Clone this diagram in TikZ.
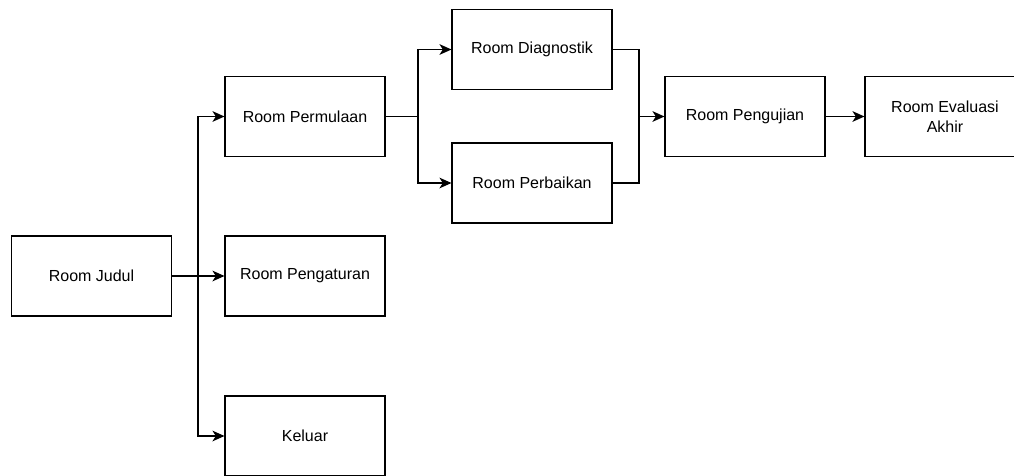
\documentclass[tikz,border=0pt]{standalone}
\usepackage{fontspec}
\setmainfont{Liberation Sans}
\usetikzlibrary{arrows.meta}

\tikzset{
	room/.style={draw, line width=0.8pt, minimum width=120pt, minimum height=60pt, inner sep=2pt, align=center},
	arr/.style={line width=1pt, -{Stealth[length=9pt, width=8pt, inset=2.5pt]}},
	line/.style={line width=1pt}
}

\begin{document}
\begin{tikzpicture}[x=0.75pt, y=-0.75pt, every node/.style={font=\fontsize{12}{15}\selectfont}]
	\useasboundingbox (0,0) rectangle (1014,475);
	\clip (0,0) rectangle (1014,475);
	% rooms
	\node[room] (judul) at (91.5,276) {Room Judul};
	\node[room] (permulaan) at (305,116.5) {Room Permulaan};
	\node[room] (pengaturan) at (305,276) {Room Pengaturan};
	\node[room] (keluar) at (305,436) {Keluar};
	\node[room] (diagnostik) at (532,49.5) {Room Diagnostik};
	\node[room] (perbaikan) at (532,183) {Room Perbaikan};
	\node[room] (pengujian) at (745,116.5) {Room Pengujian};
	\node[room] (evaluasi) at (945,116.5) {Room Evaluasi\\Akhir};
	% branch points
	\coordinate (j) at (198,276);
	\coordinate (p) at (418,116.5);
	\coordinate (m) at (639,116.5);
	% connectors
	\draw[arr] (judul) -- (j) |- (permulaan);
	\draw[arr] (judul) -- (pengaturan);
	\draw[arr] (j) |- (keluar);
	\draw[arr] (permulaan) -- (p) |- (diagnostik);
	\draw[arr] (p) |- (perbaikan);
	\draw[line] (diagnostik) -| (m);
	\draw[line] (perbaikan) -| (m);
	\draw[arr] (m) -- (pengujian);
	\draw[arr] (pengujian) -- (evaluasi);
\end{tikzpicture}
\end{document}
